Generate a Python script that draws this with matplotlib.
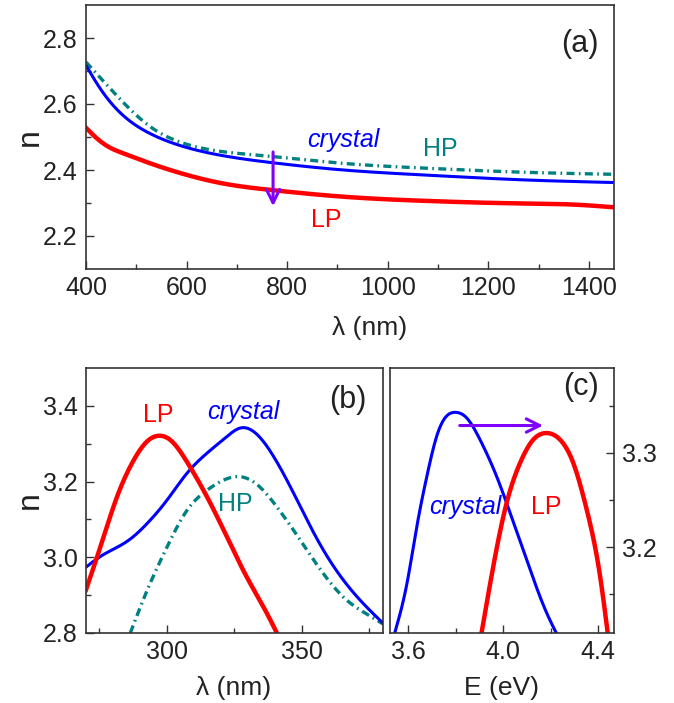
import matplotlib
matplotlib.use("Agg")
import matplotlib.pyplot as plt
from matplotlib.ticker import MultipleLocator, FixedLocator
import numpy as np

plt.rcParams['font.family'] = ['Liberation Sans', 'DejaVu Sans']

# ---------------- Panel (a) data ----------------
a_crystal_wl = [400, 426, 451, 485, 528, 596, 656, 771, 912, 1083, 1254, 1450]
a_crystal_n = [2.717, 2.652, 2.601, 2.551, 2.510, 2.470, 2.448, 2.422, 2.400, 2.384, 2.371, 2.362]
a_hp_wl = [400, 451, 528, 596, 741, 912, 1083, 1254, 1450]
a_hp_n = [2.727, 2.642, 2.531, 2.480, 2.445, 2.420, 2.405, 2.394, 2.387]
a_lp_wl = [400, 420, 445, 475, 528, 596, 673, 771, 912, 1083, 1254, 1373, 1450]
a_lp_n = [2.528, 2.498, 2.470, 2.450, 2.420, 2.387, 2.359, 2.339, 2.319, 2.306, 2.299, 2.295, 2.287]

# ---------------- Panel (b) data ----------------
b_crystal_wl = [270, 275.3, 285.8, 292.6, 300, 307.4, 314.8, 322.2, 326.9, 332.1, 339.5, 345.7, 351.9, 358.0, 365.4, 372.8, 380]
b_crystal_n = [2.974, 3.002, 3.045, 3.089, 3.151, 3.222, 3.275, 3.319, 3.341, 3.332, 3.266, 3.186, 3.098, 3.018, 2.939, 2.877, 2.826]
b_lp_wl = [270, 275.3, 281.5, 287.7, 292.6, 296.9, 301.2, 307.4, 314.8, 322.2, 329.6, 335.8, 340.7]
b_lp_n = [2.914, 3.027, 3.160, 3.257, 3.306, 3.321, 3.310, 3.252, 3.160, 3.054, 2.947, 2.868, 2.800]
b_hp_wl = [286.4, 292.6, 300, 307.4, 314.8, 321, 325.6, 332.1, 340.7, 349.4, 358, 366.7, 374, 380]
b_hp_n = [2.800, 2.912, 3.027, 3.124, 3.177, 3.204, 3.213, 3.199, 3.133, 3.045, 2.956, 2.886, 2.850, 2.824]

# ---------------- Panel (c) data ----------------
c_crystal_E = [3.545, 3.595, 3.637, 3.679, 3.721, 3.762, 3.798, 3.847, 3.903, 3.973, 4.044, 4.114, 4.184, 4.222]
c_crystal_n = [3.110, 3.161, 3.222, 3.275, 3.318, 3.339, 3.343, 3.337, 3.314, 3.275, 3.226, 3.176, 3.130, 3.110]
c_lp_E = [3.91, 3.959, 4.015, 4.071, 4.127, 4.179, 4.24, 4.296, 4.352, 4.408, 4.44]
c_lp_n = [3.110, 3.180, 3.247, 3.289, 3.314, 3.321, 3.314, 3.289, 3.240, 3.170, 3.110]

BLUE = '#0000ff'
RED = '#ff0000'
TEAL = '#008080'
PURPLE = '#8000ff'
AXC = '#333333'
TXT = '#222222'
FS = 18


def spline(x, y, n=400):
    """Natural cubic spline through the points, evaluated on a fine grid in x."""
    x = np.asarray(x, float)
    y = np.asarray(y, float)
    k = len(x)
    h = np.diff(x)
    A = np.zeros((k, k))
    r = np.zeros(k)
    A[0, 0] = A[-1, -1] = 1
    for i in range(1, k - 1):
        A[i, i - 1] = h[i - 1]
        A[i, i] = 2 * (h[i - 1] + h[i])
        A[i, i + 1] = h[i]
        r[i] = 3 * ((y[i + 1] - y[i]) / h[i] - (y[i] - y[i - 1]) / h[i - 1])
    c = np.linalg.solve(A, r)
    b = (y[1:] - y[:-1]) / h - h * (2 * c[:-1] + c[1:]) / 3
    d = (c[1:] - c[:-1]) / (3 * h)
    xs = np.linspace(x[0], x[-1], n)
    idx = np.clip(np.searchsorted(x, xs) - 1, 0, k - 2)
    dx = xs - x[idx]
    ys = y[idx] + b[idx] * dx + c[idx] * dx ** 2 + d[idx] * dx ** 3
    return xs, ys


fig = plt.figure(figsize=(6.74, 7.03), dpi=100)
W, H = 674, 703


def add_ax(l, r, t, b):
    return fig.add_axes([l / W, 1 - b / H, (r - l) / W, (b - t) / H])


axa = add_ax(86, 614, 5, 269)
axb = add_ax(86, 383, 368, 633)
axc = add_ax(390, 614, 368, 633)

for ax in (axa, axb, axc):
    for s in ax.spines.values():
        s.set_color(AXC)
        s.set_linewidth(1.2)
    ax.tick_params(which='both', direction='in', colors=AXC, labelcolor=TXT,
                   labelsize=FS, width=1.0, top=False)
    ax.tick_params(which='major', length=6)
    ax.tick_params(which='minor', length=3.5)

HPSTYLE = (0, (2.4, 1.3, 0.5, 1.3))

# ----- (a) -----
ax = axa
ax.plot(*spline(a_hp_wl, a_hp_n), color=TEAL, lw=2.4, linestyle=HPSTYLE)
ax.plot(*spline(a_crystal_wl, a_crystal_n), color=BLUE, lw=2.2)
ax.plot(*spline(a_lp_wl, a_lp_n), color=RED, lw=3.2)
ax.set_xlim(400, 1450)
ax.set_ylim(2.1, 2.9)
ax.xaxis.set_major_locator(MultipleLocator(200))
ax.xaxis.set_minor_locator(MultipleLocator(100))
ax.yaxis.set_major_locator(FixedLocator([2.2, 2.4, 2.6, 2.8]))
ax.yaxis.set_minor_locator(FixedLocator([2.3, 2.5, 2.7]))
ax.tick_params(axis='y', which='both', left=True, right=False, pad=6)
ax.tick_params(axis='x', pad=5)
ax.annotate('', xy=(772, 2.282), xytext=(772, 2.463),
            arrowprops=dict(arrowstyle='->', color=PURPLE, lw=2.2, mutation_scale=24))
ax.text(912, 2.490, 'crystal', color=BLUE, fontsize=FS, style='italic', ha='center', va='center')
ax.text(1104, 2.463, 'HP', color=TEAL, fontsize=FS, ha='center', va='center')
ax.text(878, 2.248, 'LP', color=RED, fontsize=FS, ha='center', va='center')
ax.text(1382, 2.783, '(a)', color=TXT, fontsize=FS + 4, ha='center', va='center')

# ----- (b) -----
ax = axb
ax.plot(*spline(b_hp_wl, b_hp_n), color=TEAL, lw=2.4, linestyle=HPSTYLE)
ax.plot(*spline(b_crystal_wl, b_crystal_n), color=BLUE, lw=2.2)
ax.plot(*spline(b_lp_wl, b_lp_n), color=RED, lw=3.2)
ax.set_xlim(270, 380)
ax.set_ylim(2.8, 3.5)
ax.xaxis.set_major_locator(FixedLocator([300, 350]))
ax.xaxis.set_minor_locator(FixedLocator([275, 325, 375]))
ax.yaxis.set_major_locator(FixedLocator([2.8, 3.0, 3.2, 3.4]))
ax.yaxis.set_minor_locator(FixedLocator([2.9, 3.1, 3.3]))
ax.tick_params(axis='y', which='both', left=True, right=False, pad=6)
ax.tick_params(axis='x', pad=5)
ax.text(296.9, 3.376, 'LP', color=RED, fontsize=FS, ha='center', va='center')
ax.text(328.4, 3.385, 'crystal', color=BLUE, fontsize=FS, style='italic', ha='center', va='center')
ax.text(325.3, 3.142, 'HP', color=TEAL, fontsize=FS, ha='center', va='center')
ax.text(367, 3.416, '(b)', color=TXT, fontsize=FS + 4, ha='center', va='center')

# ----- (c) -----
ax = axc
ax.plot(*spline(c_crystal_E, c_crystal_n), color=BLUE, lw=2.2)
ax.plot(*spline(c_lp_E, c_lp_n), color=RED, lw=3.2)
ax.set_xlim(3.524, 4.467)
ax.set_ylim(3.109, 3.39)
ax.xaxis.set_major_locator(FixedLocator([3.6, 4.0, 4.4]))
ax.xaxis.set_minor_locator(FixedLocator([3.8, 4.2]))
ax.yaxis.set_major_locator(FixedLocator([3.2, 3.3]))
ax.yaxis.set_minor_locator(FixedLocator([3.15, 3.25, 3.35]))
ax.yaxis.tick_right()
ax.tick_params(axis='y', which='both', left=False, right=True, pad=6)
ax.tick_params(axis='x', pad=5)
ax.annotate('', xy=(4.18, 3.329), xytext=(3.806, 3.329),
            arrowprops=dict(arrowstyle='->', color=PURPLE, lw=2.2, mutation_scale=24))
ax.text(3.84, 3.243, 'crystal', color=BLUE, fontsize=FS, style='italic', ha='center', va='center')
ax.text(4.18, 3.243, 'LP', color=RED, fontsize=FS, ha='center', va='center')
ax.text(4.33, 3.37, '(c)', color=TXT, fontsize=FS + 4, ha='center', va='center')

# axis labels
fig.text(30 / W, 1 - 137 / H, 'n', rotation=90, fontsize=FS + 5, color=TXT, ha='center', va='center')
fig.text(30 / W, 1 - 500 / H, 'n', rotation=90, fontsize=FS + 5, color=TXT, ha='center', va='center')
fig.text(370 / W, 1 - 328 / H, 'λ (nm)', fontsize=FS + 1, color=TXT, ha='center', va='center')
fig.text(234 / W, 1 - 688 / H, 'λ (nm)', fontsize=FS + 1, color=TXT, ha='center', va='center')
fig.text(502 / W, 1 - 688 / H, 'E (eV)', fontsize=FS + 1, color=TXT, ha='center', va='center')

fig.savefig('out.png', dpi=100)
